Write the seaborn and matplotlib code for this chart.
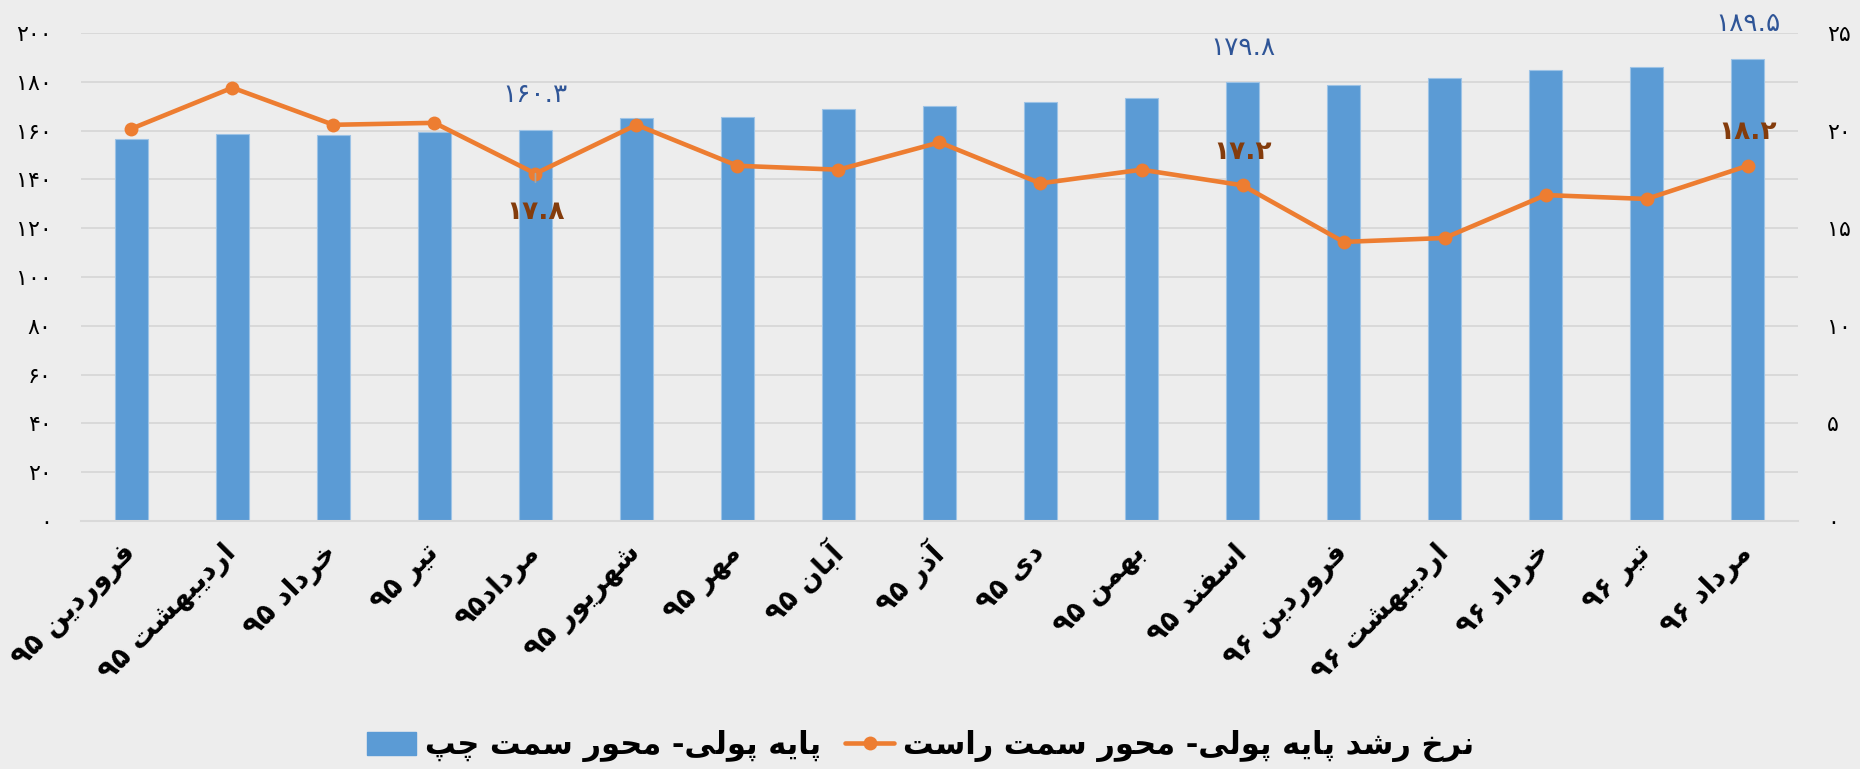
import re
import numpy as np
import pandas as pd
import matplotlib
matplotlib.use("Agg")
import matplotlib.pyplot as plt
from matplotlib.patches import Patch
from matplotlib.lines import Line2D
import seaborn as sns

# ---------------- data ----------------
months = ["فروردین ۹۵", "اردیبهشت ۹۵", "خرداد ۹۵", "تیر ۹۵", "مرداد۹۵", "شهریور ۹۵",
          "مهر ۹۵", "آبان ۹۵", "آذر ۹۵", "دی ۹۵", "بهمن ۹۵", "اسفند ۹۵",
          "فروردین ۹۶", "اردیبهشت ۹۶", "خرداد ۹۶", "تیر ۹۶", "مرداد ۹۶"]
monetary_base = [156.5, 158.6, 158.2, 159.5, 160.3, 165.0, 165.7, 168.8, 170.2,
                 171.7, 173.2, 179.8, 178.8, 181.4, 184.8, 186.1, 189.5]
growth_rate = [20.1, 22.2, 20.3, 20.4, 17.8, 20.3, 18.2, 18.0, 19.4,
               17.3, 18.0, 17.2, 14.3, 14.5, 16.7, 16.5, 18.2]
bar_label_idx = [4, 11, 16]
line_label_idx = [4, 11, 16]
left_ticks = [0, 20, 40, 60, 80, 100, 120, 140, 160, 180, 200]
right_ticks = [0, 5, 10, 15, 20, 25]
legend_bar = "پایه پولی- محور سمت چپ"
legend_line = "نرخ رشد پایه پولی- محور سمت راست"

# ------------- minimal Persian shaping (matplotlib has no RTL layout) -------------
FORMS = {
    '\u0627': ('\uFE8D', '\uFE8E', None, None),
    '\u0622': ('\uFE81', '\uFE82', None, None),
    '\u0628': ('\uFE8F', '\uFE90', '\uFE91', '\uFE92'),
    '\u067E': ('\uFB56', '\uFB57', '\uFB58', '\uFB59'),
    '\u062A': ('\uFE95', '\uFE96', '\uFE97', '\uFE98'),
    '\u0686': ('\uFB7A', '\uFB7B', '\uFB7C', '\uFB7D'),
    '\u062D': ('\uFEA1', '\uFEA2', '\uFEA3', '\uFEA4'),
    '\u062E': ('\uFEA5', '\uFEA6', '\uFEA7', '\uFEA8'),
    '\u062F': ('\uFEA9', '\uFEAA', None, None),
    '\u0630': ('\uFEAB', '\uFEAC', None, None),
    '\u0631': ('\uFEAD', '\uFEAE', None, None),
    '\u0632': ('\uFEAF', '\uFEB0', None, None),
    '\u0633': ('\uFEB1', '\uFEB2', '\uFEB3', '\uFEB4'),
    '\u0634': ('\uFEB5', '\uFEB6', '\uFEB7', '\uFEB8'),
    '\u0641': ('\uFED1', '\uFED2', '\uFED3', '\uFED4'),
    '\u0644': ('\uFEDD', '\uFEDE', '\uFEDF', '\uFEE0'),
    '\u0645': ('\uFEE1', '\uFEE2', '\uFEE3', '\uFEE4'),
    '\u0646': ('\uFEE5', '\uFEE6', '\uFEE7', '\uFEE8'),
    '\u0647': ('\uFEE9', '\uFEEA', '\uFEEB', '\uFEEC'),
    '\u0648': ('\uFEED', '\uFEEE', None, None),
    '\u06CC': ('\uFBFC', '\uFBFD', '\uFBFE', '\uFBFF'),
}


def shape(word):
    out = []
    for i, c in enumerate(word):
        if c not in FORMS:
            out.append(c)
            continue
        prev = word[i - 1] if i > 0 else None
        nxt = word[i + 1] if i + 1 < len(word) else None
        jp = prev in FORMS and FORMS[prev][2] is not None
        jn = FORMS[c][2] is not None and nxt in FORMS
        f = FORMS[c]
        out.append(f[3] if (jp and jn) else f[1] if jp else f[2] if jn else f[0])
    return ''.join(out)


def rtl(s):
    shaped = shape(s)
    runs = re.findall(r'[\u06F0-\u06F9\d.]+|[^\u06F0-\u06F9\d.]+', shaped)
    vis = []
    for r in reversed(runs):
        if re.match(r'[\u06F0-\u06F9\d]', r):
            vis.append(r)
        else:
            vis.append(r[::-1])
    return ''.join(vis)


FA = str.maketrans('0123456789', '۰۱۲۳۴۵۶۷۸۹')


def fa(v):
    return str(v).translate(FA)


# ---------------- style ----------------
BG = "#EDEDED"
GRID = "#D9D9D9"
BLUE = "#5B9BD5"
ORANGE = "#ED7D31"
sns.set_theme(style="white")
plt.rcParams['font.family'] = ['DejaVu Sans', 'Noto Sans']
plt.rcParams['text.color'] = 'black'
plt.rcParams['xtick.color'] = 'black'
plt.rcParams['ytick.color'] = 'black'

df = pd.DataFrame({"month": months, "base": monetary_base, "growth": growth_rate,
                   "pos": np.arange(len(months))})

fig = plt.figure(figsize=(18.6, 7.69), dpi=100, facecolor=BG)
ax = fig.add_axes([0.0435, 0.3225, 0.9232, 0.6345])
ax.set_facecolor(BG)

sns.barplot(data=df, x="month", y="base", order=months, color=BLUE, width=0.32,
            saturation=1, edgecolor="#9DC3E6", linewidth=0.8, ax=ax, zorder=2)
ax.set_xlim(-0.5, len(months) - 0.5)
ax.set_ylim(0, 200)
ax.set_yticks(left_ticks)
ax.set_yticklabels([fa(t) for t in left_ticks], fontsize=16, color='black')
ax.yaxis.grid(True, color=GRID, linewidth=1.4, zorder=0)
ax.set_axisbelow(True)
ax.tick_params(axis='y', length=0, pad=21)
ax.set_xlabel("")
ax.set_ylabel("")
ax.set_xticks(np.arange(len(months)))
ax.set_xticklabels([rtl(m) for m in months], rotation=45, ha='right',
                   rotation_mode='anchor', fontsize=20, fontweight='bold', va='center',
                   color='black')
ax.tick_params(axis='x', which='major', length=0, pad=20)
ax.set_xticks(np.arange(-0.5, len(months), 1), minor=True)
ax.tick_params(axis='x', which='minor', length=12, width=1.5, color=GRID)
for s in ['top', 'left', 'right']:
    ax.spines[s].set_visible(False)
ax.spines['bottom'].set_color(GRID)
ax.spines['bottom'].set_linewidth(1.5)

ax2 = ax.twinx()
sns.lineplot(data=df, x="pos", y="growth", color=ORANGE, linewidth=3.3, marker='o',
             markersize=10, markeredgewidth=0, ax=ax2, zorder=3)
ax2.set_ylim(0, 25)
ax2.set_yticks(right_ticks)
ax2.set_yticklabels([fa(t) for t in right_ticks], fontsize=16, color='black')
ax2.tick_params(axis='y', length=0, pad=21)
ax2.set_ylabel("")
ax2.set_xlabel("")
for s in ['top', 'left', 'right', 'bottom']:
    ax2.spines[s].set_visible(False)
ax2.set_xlim(-0.5, len(months) - 0.5)

# data labels
for i in bar_label_idx:
    ax.annotate(fa(f"{monetary_base[i]:.1f}"), xy=(i, monetary_base[i]), xytext=(0, 25),
                textcoords='offset points', ha='center', va='center', fontsize=19,
                color="#2F5597")
for i in line_label_idx:
    if i == 4:
        ax2.annotate(fa(f"{growth_rate[i]:.1f}"), xy=(i, growth_rate[i]), xytext=(0, -28),
                     textcoords='offset points', ha='center', va='center', fontsize=19,
                     fontweight='bold', color="#843C0C",
                     arrowprops=dict(arrowstyle='-', color='#A6A6A6', lw=1.2,
                                     shrinkA=10, shrinkB=0))
    else:
        ax2.annotate(fa(f"{growth_rate[i]:.1f}"), xy=(i, growth_rate[i]), xytext=(0, 24),
                     textcoords='offset points', ha='center', va='center', fontsize=19,
                     fontweight='bold', color="#843C0C")

handles = [Patch(facecolor=BLUE, edgecolor=BLUE),
           Line2D([0], [0], color=ORANGE, lw=3.3, marker='o', markersize=10, markeredgewidth=0)]
fig.legend(handles, [rtl(legend_bar), rtl(legend_line)], loc='center',
           bbox_to_anchor=(0.495, 0.03), ncol=2, frameon=False,
           prop={'size': 22, 'weight': 'bold'}, handlelength=1.6, handleheight=0.8,
           handletextpad=0.3, columnspacing=0.8)

fig.savefig("out.png", dpi=100, facecolor=BG)
